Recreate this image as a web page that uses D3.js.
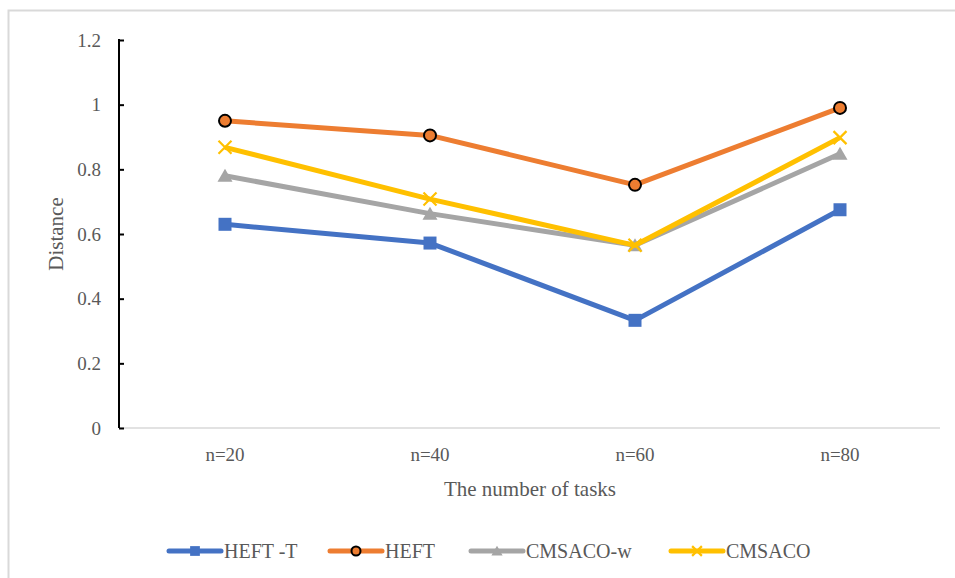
<!DOCTYPE html>
<html><head><meta charset="utf-8">
<script src="https://cdn.jsdelivr.net/npm/d3@7"></script>
<style>body{margin:0;background:#fff}svg{display:block}text{font-family:"Times New Roman","Liberation Serif",serif}</style>
</head><body><svg id="c" width="955" height="578"></svg>
<script>
const categories = ["n=20","n=40","n=60","n=80"];
const heftT = [0.63, 0.572, 0.333, 0.675];
const heft = [0.95, 0.905, 0.752, 0.99];
const cmsacoW = [0.78, 0.663, 0.565, 0.848];
const cmsaco = [0.868, 0.708, 0.565, 0.898];
const yTicks = [0, 0.2, 0.4, 0.6, 0.8, 1, 1.2];
const seriesNames = ["HEFT -T","HEFT","CMSACO-w","CMSACO"];
const colors = ["#4472C4","#ED7D31","#A5A5A5","#FFC000"];
const markers = ["square","circle","triangle","x"];
const allSeries = [heftT, heft, cmsacoW, cmsaco];

const svg = d3.select("#c");
const font = '"Times New Roman","Liberation Serif",serif';
const textColor = "#595959";

svg.append("path").attr("d","M8.5,578 V10.5 H955").attr("fill","none").attr("stroke","#d9d9d9").attr("stroke-width",2);

const x = d3.scalePoint().domain(categories).range([225, 840]);
const y = d3.scaleLinear().domain([0,1.2]).range([428, 40]);

svg.append("line").attr("x1",119).attr("x2",940).attr("y1",y(0)).attr("y2",y(0)).attr("stroke","#d9d9d9").attr("stroke-width",1.5);

const yAxis = d3.axisLeft(y).tickValues(yTicks).tickSize(-5).tickFormat(d=>String(d)).tickPadding(18);
const gy = svg.append("g").attr("transform","translate(119,0)").call(yAxis).attr("font-family",null);
gy.select(".domain").attr("stroke","#000").attr("stroke-width",2).attr("d","M-1,"+y(1.2)+" H0 V"+y(0));
gy.selectAll(".tick line").attr("stroke","#000").attr("stroke-width",2);
gy.selectAll(".tick text").attr("fill",textColor).style("font-family",font).style("font-size","19px");

svg.selectAll(".xl").data(categories).enter().append("text")
  .attr("x",d=>x(d)).attr("y",461).attr("text-anchor","middle")
  .attr("fill",textColor).style("font-family",font).style("font-size","19px").text(d=>d);

svg.append("text").attr("x",530).attr("y",496).attr("text-anchor","middle").attr("fill",textColor)
  .style("font-family",font).style("font-size","21px").text("The number of tasks");
svg.append("text").attr("transform","translate(63,234) rotate(-90)").attr("text-anchor","middle").attr("fill",textColor)
  .style("font-family",font).style("font-size","21px").text("Distance");

function drawMarker(g, type, cx, cy, color, s) {
  if (type==="square") g.append("rect").attr("x",cx-6.5*s).attr("y",cy-6.5*s).attr("width",13*s).attr("height",13*s).attr("fill",color);
  else if (type==="circle") g.append("circle").attr("cx",cx).attr("cy",cy).attr("r",6*s).attr("fill",color).attr("stroke","#000").attr("stroke-width",2);
  else if (type==="triangle") g.append("path").attr("d",`M${cx},${cy-7*s} L${cx+7.5*s},${cy+6*s} L${cx-7.5*s},${cy+6*s} Z`).attr("fill",color);
  else if (type==="x") g.append("path").attr("d",`M${cx-6.5*s},${cy-6.5*s} L${cx+6.5*s},${cy+6.5*s} M${cx+6.5*s},${cy-6.5*s} L${cx-6.5*s},${cy+6.5*s}`).attr("stroke",color).attr("stroke-width",2.2);
}

const line = d3.line().x((d,i)=>x(categories[i])).y(d=>y(d));
allSeries.forEach((vals, si) => {
  const g = svg.append("g");
  g.append("path").datum(vals).attr("d",line).attr("fill","none").attr("stroke",colors[si]).attr("stroke-width",5).attr("stroke-linejoin","round");
  vals.forEach((v,i)=>drawMarker(g, markers[si], x(categories[i]), y(v), colors[si], 1));
});

const legY = 551;
const legStarts = [167, 328, 469, 669];
allSeries.forEach((vals, si) => {
  const g = svg.append("g");
  const lx = legStarts[si];
  g.append("line").attr("x1",lx+2).attr("x2",lx+54).attr("y1",legY).attr("y2",legY).attr("stroke",colors[si]).attr("stroke-width",5).attr("stroke-linecap","round");
  drawMarker(g, markers[si], lx+28, legY, colors[si], 0.75);
  g.append("text").attr("x",lx+57).attr("y",legY+7).attr("fill",textColor).style("font-family",font).style("font-size","20px").text(seriesNames[si]);
});
</script></body></html>
